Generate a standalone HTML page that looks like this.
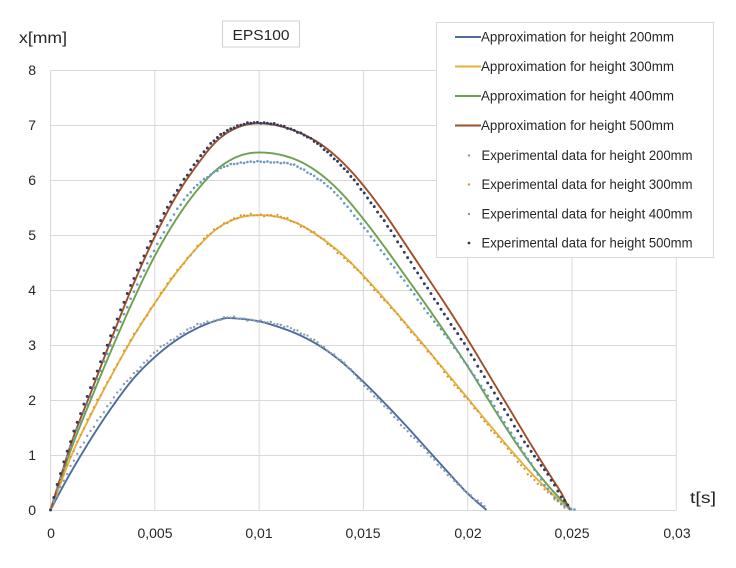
<!DOCTYPE html>
<html><head><meta charset="utf-8"><style>
html,body{margin:0;padding:0;background:#fff;}
svg{display:block;}
text{font-family:"Liberation Sans",Arial,sans-serif;fill:#262626;}
</style></head><body>
<svg id="c" width="736" height="568" viewBox="0 0 736 568" xmlns="http://www.w3.org/2000/svg">
<rect x="0" y="0" width="736" height="568" fill="#fff"/>
<g stroke="#d9d9d9" stroke-width="1" fill="none">
<line x1="50.5" y1="70" x2="50.5" y2="510"/>
<line x1="154.8" y1="70" x2="154.8" y2="510"/>
<line x1="259.1" y1="70" x2="259.1" y2="510"/>
<line x1="363.4" y1="70" x2="363.4" y2="510"/>
<line x1="467.7" y1="70" x2="467.7" y2="510"/>
<line x1="572" y1="70" x2="572" y2="510"/>
<line x1="676.3" y1="70" x2="676.3" y2="510"/>
<line x1="50.5" y1="70.5" x2="676.3" y2="70.5"/>
<line x1="50.5" y1="125.5" x2="676.3" y2="125.5"/>
<line x1="50.5" y1="180.5" x2="676.3" y2="180.5"/>
<line x1="50.5" y1="235.5" x2="676.3" y2="235.5"/>
<line x1="50.5" y1="290.5" x2="676.3" y2="290.5"/>
<line x1="50.5" y1="345.5" x2="676.3" y2="345.5"/>
<line x1="50.5" y1="400.5" x2="676.3" y2="400.5"/>
<line x1="50.5" y1="455.5" x2="676.3" y2="455.5"/>
<line x1="50.5" y1="510.5" x2="676.3" y2="510.5"/>
</g>
<g font-size="14" text-anchor="end">
<text x="36" y="75">8</text>
<text x="36" y="130">7</text>
<text x="36" y="185">6</text>
<text x="36" y="240">5</text>
<text x="36" y="295">4</text>
<text x="36" y="350">3</text>
<text x="36" y="405">2</text>
<text x="36" y="460">1</text>
<text x="36" y="515">0</text>
</g>
<g font-size="14" text-anchor="middle">
<text x="51" y="538">0</text>
<text x="155" y="538">0,005</text>
<text x="259" y="538">0,01</text>
<text x="363" y="538">0,015</text>
<text x="468" y="538">0,02</text>
<text x="572" y="538">0,025</text>
<text x="677" y="538">0,03</text>
</g>
<text x="19" y="43" font-size="16" textLength="48" lengthAdjust="spacingAndGlyphs">x[mm]</text>
<text x="690" y="503" font-size="16" textLength="26" lengthAdjust="spacingAndGlyphs">t[s]</text>
<rect x="222.5" y="21" width="77" height="26" fill="#fff" stroke="#d0d0d0" stroke-width="1"/>
<text x="261" y="40" font-size="15" text-anchor="middle" textLength="57" lengthAdjust="spacingAndGlyphs">EPS100</text>
<g id="series"></g>
<rect x="436.5" y="22.5" width="277" height="235" fill="#fff" stroke="#d9d9d9" stroke-width="1"/>
<g stroke-width="2">
<line x1="455" y1="37" x2="481" y2="37" stroke="#4c6d9e"/>
<line x1="455" y1="66.5" x2="481" y2="66.5" stroke="#e6b13a"/>
<line x1="455" y1="96" x2="481" y2="96" stroke="#6da04f"/>
<line x1="455" y1="125.5" x2="481" y2="125.5" stroke="#9e4e2a"/>
</g>
<circle cx="469" cy="155.5" r="1.2" fill="#8c9db5"/>
<circle cx="469" cy="184.5" r="1.2" fill="#d8953a"/>
<circle cx="469" cy="214" r="1.2" fill="#6b9ac4"/>
<circle cx="469" cy="243" r="1.4" fill="#2f3c5e"/>
<g font-size="13.4">
<text x="481" y="41.7" textLength="193" lengthAdjust="spacingAndGlyphs">Approximation for height 200mm</text>
<text x="481" y="71.2" textLength="193" lengthAdjust="spacingAndGlyphs">Approximation for height 300mm</text>
<text x="481" y="100.7" textLength="193" lengthAdjust="spacingAndGlyphs">Approximation for height 400mm</text>
<text x="481" y="130.2" textLength="193" lengthAdjust="spacingAndGlyphs">Approximation for height 500mm</text>
<text x="481.5" y="160.2" textLength="211" lengthAdjust="spacingAndGlyphs">Experimental data for height 200mm</text>
<text x="481.5" y="189.2" textLength="211" lengthAdjust="spacingAndGlyphs">Experimental data for height 300mm</text>
<text x="481.5" y="218.7" textLength="211" lengthAdjust="spacingAndGlyphs">Experimental data for height 400mm</text>
<text x="481.5" y="247.7" textLength="211" lengthAdjust="spacingAndGlyphs">Experimental data for height 500mm</text>
</g>
</svg>
<script>
(function(){
var NS="http://www.w3.org/2000/svg";
function X(t){return 50.5+t*20860;}
function Y(v){return 510-55*v;}
function mono(k){
  var n=k.length,xs=[],ys=[],d=[],m=[],i;
  for(i=0;i<n;i++){xs.push(k[i][0]);ys.push(k[i][1]);}
  for(i=0;i<n-1;i++)d.push((ys[i+1]-ys[i])/(xs[i+1]-xs[i]));
  m[0]=d[0];m[n-1]=d[n-2];
  for(i=1;i<n-1;i++){m[i]=(d[i-1]*d[i]<=0)?0:(d[i-1]+d[i])/2;}
  for(i=0;i<n-1;i++){
    if(d[i]===0){m[i]=0;m[i+1]=0;continue;}
    var a=m[i]/d[i],b=m[i+1]/d[i],s=a*a+b*b;
    if(s>9){var tt=3/Math.sqrt(s);m[i]=tt*a*d[i];m[i+1]=tt*b*d[i];}
  }
  return function(t){
    if(t<=xs[0])return ys[0];
    if(t>=xs[n-1])return ys[n-1];
    var j=0;while(j<n-2&&t>xs[j+1])j++;
    var h=xs[j+1]-xs[j],u=(t-xs[j])/h,u2=u*u,u3=u2*u;
    return (2*u3-3*u2+1)*ys[j]+(u3-2*u2+u)*h*m[j]+(-2*u3+3*u2)*ys[j+1]+(u3-u2)*h*m[j+1];
  };
}
var g=document.getElementById("series");
function line(k,col){
  var f=mono(k),end=k[k.length-1][0],s="",t;
  for(t=0;t<end;t+=0.00004){s+=(s?"L":"M")+X(t).toFixed(2)+" "+Y(f(t)).toFixed(2);}
  s+="L"+X(end).toFixed(2)+" "+Y(f(end)).toFixed(2);
  var p=document.createElementNS(NS,"path");
  p.setAttribute("d",s);p.setAttribute("fill","none");p.setAttribute("stroke",col);
  p.setAttribute("stroke-width","1.9");p.setAttribute("stroke-linejoin","round");
  g.appendChild(p);
}
function dots(k,col,r,seed,amp){
  var f=mono(k),end=k[k.length-1][0],i=0,t;
  for(t=0;t<=end+1e-9;t+=0.00016){
    var v=f(t)+amp*(Math.sin(i*2.31+seed)*0.6+Math.sin(i*5.73+seed*2)*0.4);
    if(v<0)v=0;
    var c=document.createElementNS(NS,"circle");
    c.setAttribute("cx",X(t).toFixed(2));c.setAttribute("cy",Y(v).toFixed(2));
    c.setAttribute("r",r);c.setAttribute("fill",col);
    g.appendChild(c);i++;
  }
}
var blueA=[[0,0],[.0005,.36],[.001,.7],[.002,1.33],[.003,1.9],[.004,2.4],[.005,2.78],[.006,3.08],[.007,3.3],[.008,3.45],[.0085,3.49],[.009,3.48],[.010,3.43],[.011,3.32],[.012,3.17],[.013,2.96],[.014,2.68],[.015,2.33],[.016,1.95],[.017,1.55],[.018,1.13],[.019,.71],[.020,.3],[.0209,0]];
var blueD=[[0,0],[.0005,.43],[.001,.82],[.002,1.48],[.003,2.02],[.004,2.48],[.005,2.86],[.006,3.14],[.007,3.35],[.008,3.46],[.0085,3.5],[.009,3.48],[.010,3.44],[.011,3.36],[.0115,3.32],[.012,3.22],[.013,2.99],[.014,2.69],[.015,2.29],[.016,1.89],[.017,1.48],[.018,1.07],[.019,.67],[.020,.3],[.0208,.09]];
var yelA=[[0,0],[.0005,.5],[.001,.99],[.002,1.78],[.003,2.5],[.004,3.17],[.005,3.76],[.006,4.3],[.007,4.76],[.008,5.12],[.009,5.31],[.010,5.36],[.011,5.32],[.012,5.18],[.013,4.94],[.014,4.64],[.015,4.26],[.016,3.84],[.017,3.4],[.018,2.95],[.019,2.49],[.020,2.03],[.021,1.57],[.022,1.12],[.023,.69],[.024,.31],[.0245,.14],[.025,0]];
var yelD=[[0,0],[.0005,.52],[.001,1.0],[.002,1.8],[.003,2.52],[.004,3.18],[.005,3.77],[.006,4.31],[.007,4.77],[.008,5.13],[.009,5.32],[.010,5.37],[.011,5.33],[.012,5.18],[.013,4.93],[.014,4.62],[.015,4.24],[.016,3.82],[.017,3.38],[.018,2.93],[.019,2.46],[.020,2.0],[.021,1.53],[.022,1.07],[.023,.63],[.024,.26],[.0245,.1],[.0249,.02]];
var grnA=[[0,0],[.0005,.58],[.001,1.12],[.002,2.07],[.003,2.98],[.004,3.84],[.005,4.62],[.006,5.27],[.007,5.8],[.008,6.2],[.009,6.43],[.010,6.50],[.011,6.46],[.012,6.33],[.013,6.09],[.014,5.74],[.015,5.29],[.016,4.79],[.017,4.26],[.018,3.73],[.019,3.18],[.020,2.61],[.021,2.0],[.022,1.40],[.023,.85],[.024,.38],[.0245,.18],[.025,0]];
var brnA=[[0,0],[.0005,.62],[.001,1.22],[.002,2.2],[.003,3.19],[.004,4.13],[.005,4.97],[.006,5.69],[.007,6.26],[.008,6.72],[.009,6.96],[.010,7.03],[.011,6.98],[.012,6.85],[.013,6.64],[.014,6.32],[.015,5.9],[.016,5.4],[.017,4.84],[.018,4.27],[.019,3.70],[.020,3.10],[.021,2.47],[.022,1.84],[.023,1.21],[.024,.60],[.0245,.30],[.0249,0]];
var darkD=[[0,0],[.0005,.7],[.001,1.3],[.002,2.3],[.003,3.28],[.004,4.22],[.005,5.05],[.006,5.77],[.007,6.33],[.008,6.78],[.009,6.98],[.0098,7.05],[.0102,7.04],[.011,6.99],[.012,6.85],[.013,6.6],[.014,6.24],[.015,5.78],[.016,5.25],[.017,4.67],[.018,4.07],[.019,3.5],[.020,2.92],[.021,2.3],[.022,1.68],[.023,1.09],[.024,.55],[.0245,.24],[.0249,.05]];
var ltD=[[0,0],[.0005,.6],[.001,1.18],[.002,2.15],[.003,3.1],[.004,3.97],[.005,4.75],[.006,5.42],[.007,5.9],[.008,6.17],[.0086,6.28],[.009,6.31],[.010,6.33],[.011,6.32],[.0115,6.29],[.012,6.21],[.013,5.98],[.014,5.62],[.015,5.15],[.016,4.65],[.017,4.14],[.018,3.63],[.019,3.14],[.020,2.62],[.021,2.05],[.022,1.45],[.023,.86],[.024,.3],[.0245,.1],[.0252,0]];
line(blueA,"#4c6d9e");
line(yelA,"#e6b13a");
line(grnA,"#6da04f");
line(brnA,"#9e4e2a");
dots(blueD,"#8c9db5",1.2,0.3,0.025);
dots(yelD,"#d8953a",1.1,1.1,0.03);
dots(ltD,"#6b9ac4",1.3,2.2,0.015);
dots(darkD,"#2f3c5e",1.45,3.7,0.015);
})();
</script>
</body></html>
